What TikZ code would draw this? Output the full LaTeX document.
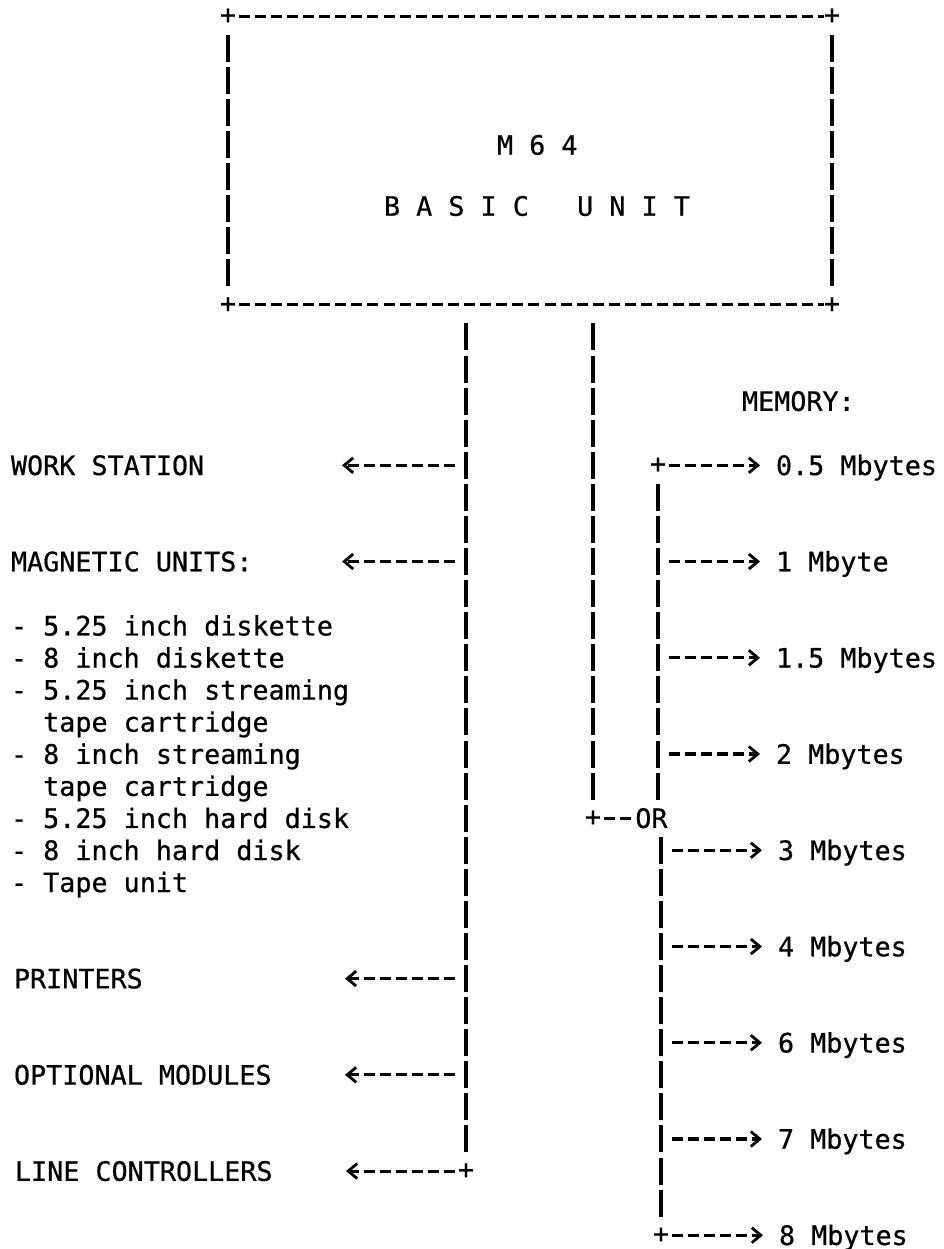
\documentclass[tikz,border=0pt]{standalone}
\usepackage{fontspec}
\newfontfamily\twfont[FakeBold=0.6]{DejaVu Sans Mono}
\usetikzlibrary{arrows.meta}
\begin{document}
\begin{tikzpicture}[x=1pt,y=-1pt,
  txt/.style={anchor=west, inner sep=0pt, outer sep=0pt, text height=19.5pt, text depth=0pt,
    font=\twfont\fontsize{26.74pt}{32pt}\selectfont},
  plus/.style={inner sep=0pt, outer sep=0pt, minimum width=16.1pt, minimum height=32.08pt,
    font=\twfont\fontsize{26.74pt}{32pt}\selectfont},
  unitbox/.style={inner sep=0pt, outer sep=0pt, minimum width=620.1pt, minimum height=320.8pt},
  conn/.style={line width=3.1pt, black},
  hdash/.style={conn, dash pattern=on 11pt off 5.1pt, dash phase=13.55pt},
  vdash/.style={conn, dash pattern=on 27pt off 5.08pt, dash phase=29.54pt},
  tipL/.style={-{Straight Barb[length=9pt,width=15pt,line width=2.8pt]}},
  larr/.style={hdash, tipL},
  rarr/.style={hdash, tipL, shorten >=16pt},
  frombus/.style={shorten <=8.05pt}
]
\fill[white] (0,0) rectangle (943,1249);
\useasboundingbox (0,0) rectangle (943,1249);

% basic unit box
\node[unitbox] (box) at (530,160.54) {};
\node[plus] (tl) at (228,16.18) {+};
\node[plus] (tr) at (832,16.18) {+};
\node[plus] (bl) at (228,304.9) {+};
\node[plus] (br) at (832,304.9) {+};
\draw[hdash] (tl.east) -- (tr.west);
\draw[hdash] (bl.east) -- (br.west);
\draw[vdash] (tl.south) -- (bl.north);
\draw[vdash] (tr.south) -- (br.north);
\node[txt] (m64) at (497,145) {M 6 4};
\node[txt] (basic) at (384,206) {B A S I C~~~U N I T};

% junctions
\node[plus] (jL) at (466,1171.06) {+};
\node[plus] (jO) at (593,818.18) {+};
\node[plus] (jM1) at (658,465.3) {+};
\node[plus] (jM2) at (661,1235.22) {+};
\node[txt] (or) at (635.35,818.18) {OR};

% buses
\draw[vdash] (box.south -| jL) -- (jL.north);
\draw[vdash] (box.south -| jO) -- (jO.north);
\draw[vdash] (jM1.south) -- (jO.north -| jM1);
\draw[vdash] (jO.south -| jM2) -- (jM2.north);
\draw[hdash] (jO.east) -- (or.west);

% left side
\node[txt] (ws) at (11,465.3) {WORK STATION};
\node[txt] (mag) at (11,561.54) {MAGNETIC UNITS:};
\node[txt] (d1) at (11,625.7) {- 5.25 inch diskette};
\node[txt] (d2) at (11,657.78) {- 8 inch diskette};
\node[txt] (d3) at (11,689.86) {- 5.25 inch streaming};
\node[txt] (d3b) at (43.2,721.94) {tape cartridge};
\node[txt] (d4) at (11,754.02) {- 8 inch streaming};
\node[txt] (d4b) at (43.2,786.1) {tape cartridge};
\node[txt] (d5) at (11,818.18) {- 5.25 inch hard disk};
\node[txt] (d6) at (11,850.26) {- 8 inch hard disk};
\node[txt] (d7) at (11,882.34) {- Tape unit};
\node[txt] (prn) at (14,978.58) {PRINTERS};
\node[txt] (opt) at (14,1074.82) {OPTIONAL MODULES};
\node[txt] (lc) at (15,1171.06) {LINE CONTROLLERS};

\draw[larr, frombus] (ws.west -| jL) -- ([xshift=331pt]ws.west);
\draw[larr, frombus] (mag.west -| jL) -- ([xshift=331pt]mag.west);
\draw[larr, frombus] (prn.west -| jL) -- ([xshift=331pt]prn.west);
\draw[larr, frombus] (opt.west -| jL) -- ([xshift=331pt]opt.west);
\draw[larr] (jL.west) -- ([xshift=331pt]lc.west);

% memory side
\node[txt] (mem) at (742,401.14) {MEMORY:};
\node[txt] (m05) at (776,465.3) {0.5 Mbytes};
\node[txt] (m1) at (776,561.54) {1 Mbyte};
\node[txt] (m15) at (776,657.78) {1.5 Mbytes};
\node[txt] (m2) at (776,754.02) {2 Mbytes};
\node[txt] (m3) at (778,850.26) {3 Mbytes};
\node[txt] (m4) at (778,946.5) {4 Mbytes};
\node[txt] (m6) at (778,1042.74) {6 Mbytes};
\node[txt] (m7) at (778,1138.98) {7 Mbytes};
\node[txt] (m8) at (779,1235.22) {8 Mbytes};

\draw[rarr] (jM1.east) -- (m05.west);
\draw[rarr, frombus] (m1.west -| jM1) -- (m1.west);
\draw[rarr, frombus] (m15.west -| jM1) -- (m15.west);
\draw[rarr, frombus] (m2.west -| jM1) -- (m2.west);
\draw[rarr, frombus] (m3.west -| jM2) -- (m3.west);
\draw[rarr, frombus] (m4.west -| jM2) -- (m4.west);
\draw[rarr, frombus] (m6.west -| jM2) -- (m6.west);
\draw[rarr, frombus] (m7.west -| jM2) -- (m7.west);
\draw[rarr] (jM2.east) -- (m8.west);
\end{tikzpicture}
\end{document}
